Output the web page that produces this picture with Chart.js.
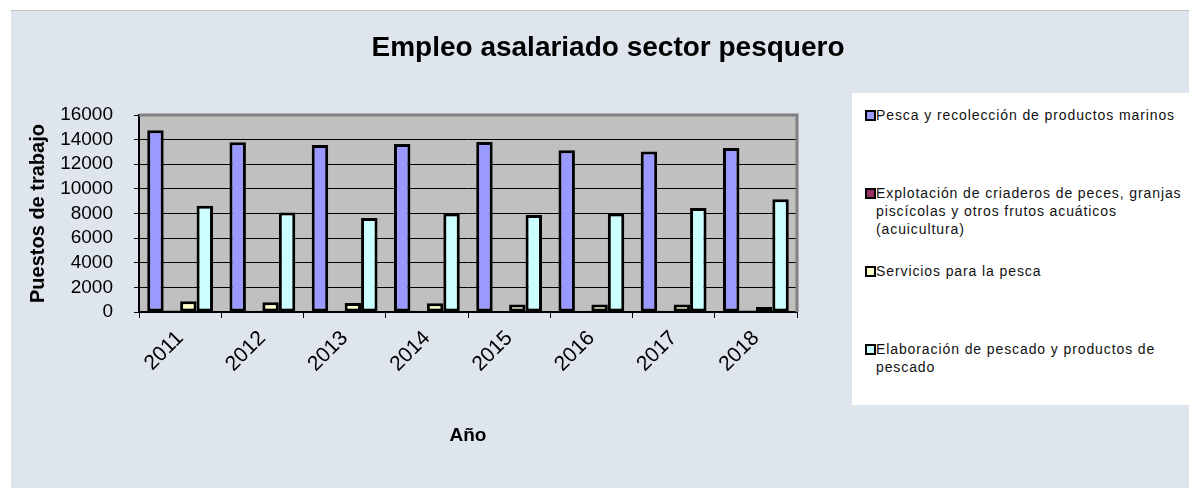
<!DOCTYPE html>
<html>
<head>
<meta charset="utf-8">
<script src="https://cdn.jsdelivr.net/npm/chart.js@4.4.1/dist/chart.umd.min.js"></script>
<style>
    html, body { margin: 0; padding: 0; background: #ffffff; }
    #frame {
        position: absolute; left: 11px; top: 10px; width: 1178px; height: 477px;
        background: #dee5ed; border-top: 1px solid #c4c4c4;
    }
    #chartBox { position: absolute; left: 0; top: 0; width: 1178px; height: 477px; }
    #legend {
        position: absolute; left: 841px; top: 82px; width: 337px; height: 312px;
        background: #ffffff;
        font-family: "Liberation Sans", Arial, sans-serif; font-size: 14px; color: #111;
        letter-spacing: 0.9px;
    }
    .item { height: 78px; box-sizing: border-box; padding: 13px 0 0 13px; display: flex; }
    .swatch { width: 7px; height: 7px; border: 2px solid #000; margin: 4px 0 0 0; flex: none; }
    .txt { line-height: 18px; white-space: pre; }
</style>
</head>
<body>
<div id="frame">
    <div id="chartBox"><canvas id="empleoChart"></canvas></div>
    <div id="legend"></div>
</div>
<script>
const years = ['2011', '2012', '2013', '2014', '2015', '2016', '2017', '2018'];
const seriesNames = [
    'Pesca y recolección de productos marinos',
    'Explotación de criaderos de peces, granjas\npiscícolas y otros frutos acuáticos\n(acuicultura)',
    'Servicios para la pesca',
    'Elaboración de pescado y productos de\npescado'
];
const pescaValues = [14760, 13780, 13560, 13640, 13800, 13130, 13040, 13310];
const acuiculturaValues = [120, 100, 100, 110, 90, 110, 100, 120];
const serviciosValues = [870, 790, 735, 720, 600, 600, 600, 410];
const elaboracionValues = [8630, 8090, 7630, 8000, 7870, 8000, 8450, 9150];
const yTicks = [0, 2000, 4000, 6000, 8000, 10000, 12000, 14000, 16000];

const colors = ['#9999ff', '#993366', '#ffffcc', '#ccffff'];
const FONT = '"Liberation Sans", Arial, sans-serif';

// plot background, grey frame and the title
const plotFrame = {
    id: 'plotFrame',
    beforeDraw(chart) {
        const { ctx, chartArea: a } = chart;
        ctx.save();
        ctx.fillStyle = '#c0c0c0';
        ctx.fillRect(a.left, a.top, a.right - a.left, a.bottom - a.top);
        ctx.restore();
    },
    afterDatasetsDraw(chart) {
        const { ctx, chartArea: a } = chart;
        ctx.save();
        ctx.strokeStyle = '#808080';
        ctx.lineWidth = 3;
        ctx.beginPath();
        ctx.moveTo(a.left, a.top);
        ctx.lineTo(a.right, a.top);
        ctx.lineTo(a.right, a.bottom);
        ctx.stroke();
        ctx.fillStyle = '#000';
        ctx.font = 'bold 28px ' + FONT;
        ctx.textAlign = 'center';
        ctx.textBaseline = 'middle';
        ctx.fillText('Empleo asalariado sector pesquero', chart.width / 2 + 8, 37);
        ctx.restore();
    }
};

const values = [pescaValues, acuiculturaValues, serviciosValues, elaboracionValues];

const chart = new Chart(document.getElementById('empleoChart'), {
    type: 'bar',
    data: {
        labels: years,
        datasets: values.map((v, i) => ({
            label: seriesNames[i],
            data: v,
            backgroundColor: colors[i],
            borderColor: '#000',
            borderWidth: 3,
            borderSkipped: false,
            categoryPercentage: 0.8,
            barPercentage: 1.0
        }))
    },
    options: {
        responsive: true,
        maintainAspectRatio: false,
        animation: false,
        layout: { padding: { top: 104, right: 392, left: 0, bottom: 0 } },
        plugins: {
            legend: { display: false },
            title: { display: false },
            tooltip: { enabled: false }
        },
        scales: {
            x: {
                afterFit(scale) { scale.height = 176; },
                grid: {
                    offset: true,
                    drawOnChartArea: false,
                    drawTicks: true,
                    tickLength: 6,
                    color: '#000'
                },
                border: { color: '#000', width: 2 },
                ticks: {
                    color: '#000',
                    font: { family: FONT, size: 21 },
                    minRotation: 45,
                    maxRotation: 45,
                    padding: 8
                },
                title: {
                    display: true,
                    text: 'Año',
                    color: '#000',
                    font: { family: FONT, size: 19, weight: 'bold' },
                    padding: { top: 0, bottom: 41 }
                }
            },
            y: {
                min: 0,
                max: 16000,
                afterFit(scale) { scale.width = 128; },
                afterBuildTicks(scale) { scale.ticks = yTicks.map(v => ({ value: v })); },
                grid: {
                    color: '#000',
                    lineWidth: 1,
                    tickLength: 5
                },
                border: { color: '#000', width: 2 },
                ticks: {
                    color: '#000',
                    font: { family: FONT, size: 19, lineHeight: 1 },
                    padding: 21,
                    autoSkip: false,
                    callback: v => String(v)
                },
                title: {
                    display: true,
                    text: 'Puestos de trabajo',
                    color: '#000',
                    font: { family: FONT, size: 20, weight: 'bold' },
                    padding: { top: 15, bottom: 0 }
                }
            }
        }
    },
    plugins: [plotFrame]
});

// legend box on the right
const legendEl = document.getElementById('legend');
chart.data.datasets.forEach(ds => {
    const item = document.createElement('div');
    item.className = 'item';
    const sw = document.createElement('span');
    sw.className = 'swatch';
    sw.style.background = ds.backgroundColor;
    const txt = document.createElement('span');
    txt.className = 'txt';
    txt.textContent = ds.label;
    item.appendChild(sw);
    item.appendChild(txt);
    legendEl.appendChild(item);
});
</script>
</body>
</html>
